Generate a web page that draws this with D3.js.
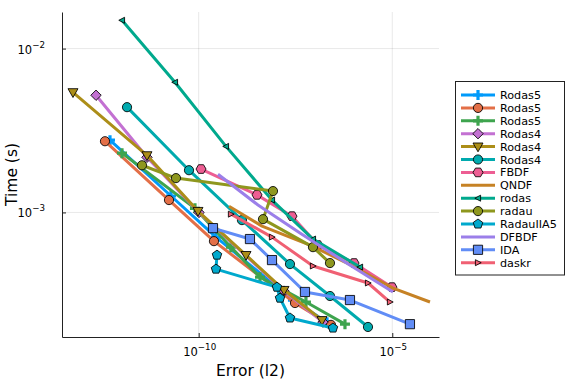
<!DOCTYPE html>
<html>
<head>
<meta charset="utf-8">
<script src="https://cdn.jsdelivr.net/npm/d3@7"></script>
<style>
  body { margin: 0; background: #fff; }
  text { font-family: "DejaVu Sans", sans-serif; fill: #000; }
</style>
</head>
<body>
<div id="chart"></div>
<script>
// Series data: error (l2) and time (s) for each solver setup
const seriesNames = ['Rodas5', 'Rodas5', 'Rodas5', 'Rodas4', 'Rodas4', 'Rodas4', 'FBDF', 'QNDF',
                     'rodas', 'radau', 'RadauIIA5', 'DFBDF', 'IDA', 'daskr'];

const rodas5aError = [5.12e-13, 1.93e-11, 2.80e-10, 2.72e-8, 2.06e-7];
const rodas5aTime  = [2.76e-3, 1.26e-3, 7.07e-4, 2.92e-4, 2.14e-4];
const rodas5bError = [3.80e-13, 1.71e-11, 2.48e-10, 3.07e-8, 2.61e-7];
const rodas5bTime  = [2.72e-3, 1.19e-3, 6.68e-4, 2.80e-4, 2.06e-4];
const rodas5cError = [1.045e-12, 8.02e-11, 6.82e-10, 3.83e-9, 5.90e-8, 6.00e-7];
const rodas5cTime  = [2.30e-3, 1.06e-3, 6.14e-4, 4.03e-4, 2.84e-4, 2.08e-4];
const rodas4aError = [2.23e-13, 4.62e-12, 1.02e-10, 1.60e-8, 1.62e-7];
const rodas4aTime  = [5.19e-3, 2.17e-3, 1.00e-3, 3.31e-4, 2.14e-4];
const rodas4bError = [5.67e-14, 4.62e-12, 9.6e-11, 1.67e-9, 1.60e-8, 1.53e-7];
const rodas4bTime  = [5.41e-3, 2.23e-3, 1.02e-3, 5.49e-4, 3.36e-4, 2.20e-4];
const rodas4cError = [1.41e-12, 5.62e-11, 1.31e-9, 2.28e-8, 2.46e-7, 2.36e-6];
const rodas4cTime  = [4.39e-3, 1.81e-3, 8.98e-4, 4.84e-4, 3.09e-4, 2.00e-4];
const fbdfError = [1.15e-10, 3.21e-9, 2.57e-8, 1.20e-7, 1.03e-6, 9.82e-6];
const fbdfTime  = [1.84e-3, 1.28e-3, 9.49e-4, 6.32e-4, 4.91e-4, 3.50e-4];
const qndfError = [6.06e-10, 4.32e-9, 7.49e-8, 6.00e-7, 1.04e-5, 9.42e-5];
const qndfTime  = [1.09e-3, 8.25e-4, 6.32e-4, 4.98e-4, 3.45e-4, 2.84e-4];
const rodasError = [1.045e-12, 2.44e-11, 5.07e-10, 7.82e-9, 8.95e-8, 1.47e-6];
const rodasTime  = [1.488e-2, 6.23e-3, 2.53e-3, 1.19e-3, 6.88e-4, 4.64e-4];
const radauError = [3.43e-12, 2.59e-11, 8.30e-9, 4.58e-9, 8.95e-8, 2.46e-7];
const radauTime  = [1.94e-3, 1.62e-3, 1.35e-3, 9.10e-4, 6.14e-4, 4.91e-4];
const radauIIA5Error = [2.97e-10, 2.80e-10, 1.05e-8, 1.26e-8, 2.28e-8, 2.94e-7];
const radauIIA5Time  = [5.49e-4, 4.51e-4, 3.50e-4, 3.00e-4, 2.27e-4, 1.97e-4];
const dfbdfError = [3.15e-10, 3.40e-9, 4.13e-8, 6.00e-7, 1.04e-5];
const dfbdfTime  = [1.71e-3, 1.11e-3, 7.48e-4, 4.98e-4, 3.27e-4];
const idaError = [2.34e-10, 2.11e-9, 7.82e-9, 5.56e-8, 8.08e-7, 2.86e-5];
const idaTime  = [8.02e-4, 6.88e-4, 5.12e-4, 3.27e-4, 2.92e-4, 2.08e-4];
const daskrError = [6.82e-10, 7.82e-9, 8.95e-8, 2.36e-6, 8.73e-6];
const daskrTime  = [9.76e-4, 7.07e-4, 4.71e-4, 3.71e-4, 2.84e-4];

const xTicks = [1e-10, 1e-5];
const yTicks = [1e-2, 1e-3];

// Styles
const colors = ['#009AFA', '#E36F47', '#3EA44E', '#C371D2', '#AC8E18', '#00AAAE', '#ED5E93', '#C68225',
                '#00A98D', '#8E971E', '#00A9CD', '#9B7FE9', '#618DF6', '#F06073'];
const shapes = ['cross', 'circle', 'cross', 'diamond', 'dtriangle', 'circle', 'hexagon', 'none',
                'ltriangle', 'circle', 'pentagon', 'none', 'square', 'rtriangle'];

const errors = [rodas5aError, rodas5bError, rodas5cError, rodas4aError, rodas4bError, rodas4cError, fbdfError,
                qndfError, rodasError, radauError, radauIIA5Error, dfbdfError, idaError, daskrError];
const times = [rodas5aTime, rodas5bTime, rodas5cTime, rodas4aTime, rodas4bTime, rodas4cTime, fbdfTime,
               qndfTime, rodasTime, radauTime, radauIIA5Time, dfbdfTime, idaTime, daskrTime];

const series = seriesNames.map((name, i) => ({
    name: name,
    color: colors[i],
    shape: shapes[i],
    points: errors[i].map((e, j) => ({ error: e, time: times[i][j] }))
}));

// Chart size
const width = 576, height = 384;
const plot = { left: 62, right: 439, top: 12, bottom: 337 };

const svg = d3.select('#chart').append('svg')
    .attr('width', width)
    .attr('height', height);

// Scales
const x = d3.scaleLog().domain([2.95e-14, 1.61e-4]).range([plot.left, plot.right]);
const y = d3.scaleLog().domain([1.737e-4, 1.672e-2]).range([plot.bottom, plot.top]);

// Grid
svg.append('g').selectAll('line').data(xTicks).enter().append('line')
    .attr('x1', d => x(d)).attr('x2', d => x(d))
    .attr('y1', plot.top).attr('y2', plot.bottom)
    .attr('stroke', '#000').attr('stroke-opacity', 0.09).attr('stroke-width', 1);
svg.append('g').selectAll('line').data(yTicks).enter().append('line')
    .attr('x1', plot.left).attr('x2', plot.right)
    .attr('y1', d => y(d)).attr('y2', d => y(d))
    .attr('stroke', '#000').attr('stroke-opacity', 0.09).attr('stroke-width', 1);

// Marker shapes
function polygon(n, r, rot) {
    const pts = d3.range(n).map(k => {
        const a = rot + k * 2 * Math.PI / n;
        return [r * Math.cos(a), r * Math.sin(a)];
    });
    return 'M' + pts.map(p => p.join(',')).join('L') + 'Z';
}
function markerPath(shape) {
    switch(shape) {
        case 'circle': return d3.symbol(d3.symbolCircle, Math.PI * 4.6 * 4.6)();
        case 'square': return 'M-4.6,-4.6L4.6,-4.6L4.6,4.6L-4.6,4.6Z';
        case 'diamond': return 'M0,-5.2L5.2,0L0,5.2L-5.2,0Z';
        case 'dtriangle': return 'M-5,-3.6L5,-3.6L0,5.2Z';
        case 'ltriangle': return 'M-3.2,0L2.6,-3L2.6,3Z';
        case 'rtriangle': return 'M3.2,0L-2.6,-3L-2.6,3Z';
        case 'hexagon': return polygon(6, 5, 0);
        case 'pentagon': return polygon(5, 5, -Math.PI / 2);
        case 'cross': return 'M-1.6,-5L1.6,-5L1.6,-1.6L5,-1.6L5,1.6L1.6,1.6L1.6,5L-1.6,5L-1.6,1.6L-5,1.6L-5,-1.6L-1.6,-1.6Z';
    }
    return null;
}
function drawMarker(g, shape, color) {
    if(shape === 'none') return;
    g.append('path')
        .attr('d', markerPath(shape))
        .attr('fill', color)
        .attr('stroke', shape === 'cross' ? 'none' : '#000')
        .attr('stroke-opacity', 0.85)
        .attr('stroke-width', 1);
}

// Series lines and markers
const line = d3.line()
    .x(d => x(d.error))
    .y(d => y(d.time));

series.forEach(s => {
    const g = svg.append('g');
    g.append('path')
        .attr('d', line(s.points))
        .attr('fill', 'none')
        .attr('stroke', s.color)
        .attr('stroke-width', 3)
        .attr('stroke-linejoin', 'round');
    s.points.forEach(p => {
        const m = g.append('g').attr('transform', 'translate(' + x(p.error) + ',' + y(p.time) + ')');
        drawMarker(m, s.shape, s.color);
    });
});

// Axes
const xAxis = d3.axisBottom(x).tickValues(xTicks).tickSizeInner(-4).tickSizeOuter(0).tickFormat('');
const yAxis = d3.axisLeft(y).tickValues(yTicks).tickSizeInner(-4).tickSizeOuter(0).tickFormat('');
svg.append('g')
    .attr('transform', 'translate(0,' + plot.bottom + ')')
    .call(xAxis)
    .call(g => g.select('.domain').attr('stroke', '#222'))
    .call(g => g.selectAll('.tick line').attr('stroke', '#222'));
svg.append('g')
    .attr('transform', 'translate(' + plot.left + ',0)')
    .call(yAxis)
    .call(g => g.select('.domain').attr('stroke', '#222'))
    .call(g => g.selectAll('.tick line').attr('stroke', '#222'));

// Tick labels with exponents
function powerLabel(t, d) {
    const e = Math.round(Math.log10(d));
    t.append('tspan').text('10');
    t.append('tspan').attr('dy', -6).attr('font-size', 8.7).text('\u2212' + Math.abs(e));
}
svg.append('g').selectAll('text').data(xTicks).enter().append('text')
    .attr('x', d => x(d) + 1)
    .attr('y', 356)
    .attr('text-anchor', 'middle')
    .attr('font-size', 11.5)
    .each(function(d) { powerLabel(d3.select(this), d); });
svg.append('g').selectAll('text').data(yTicks).enter().append('text')
    .attr('x', 45)
    .attr('y', d => y(d) + 5)
    .attr('text-anchor', 'end')
    .attr('font-size', 11.5)
    .each(function(d) { powerLabel(d3.select(this), d); });

// Axis titles
svg.append('text')
    .attr('x', (plot.left + plot.right) / 2)
    .attr('y', 376)
    .attr('text-anchor', 'middle')
    .attr('font-size', 15.5)
    .text('Error (l2)');
svg.append('text')
    .attr('transform', 'translate(17,' + ((plot.top + plot.bottom) / 2) + ') rotate(-90)')
    .attr('text-anchor', 'middle')
    .attr('font-size', 15.5)
    .text('Time (s)');

// Legend
const legend = svg.append('g');
legend.append('rect')
    .attr('x', 455.5).attr('y', 81.5)
    .attr('width', 109).attr('height', 193.5)
    .attr('fill', '#fff')
    .attr('stroke', '#222')
    .attr('stroke-width', 1);
series.forEach((s, i) => {
    const row = legend.append('g').attr('transform', 'translate(0,' + (95 + i * 12.9) + ')');
    row.append('line')
        .attr('x1', 461).attr('x2', 495)
        .attr('stroke', s.color)
        .attr('stroke-width', 3);
    drawMarker(row.append('g').attr('transform', 'translate(478,0)'), s.shape, s.color);
    row.append('text')
        .attr('x', 500)
        .attr('y', 4)
        .attr('font-size', 11.2)
        .text(s.name);
});
</script>
</body>
</html>
